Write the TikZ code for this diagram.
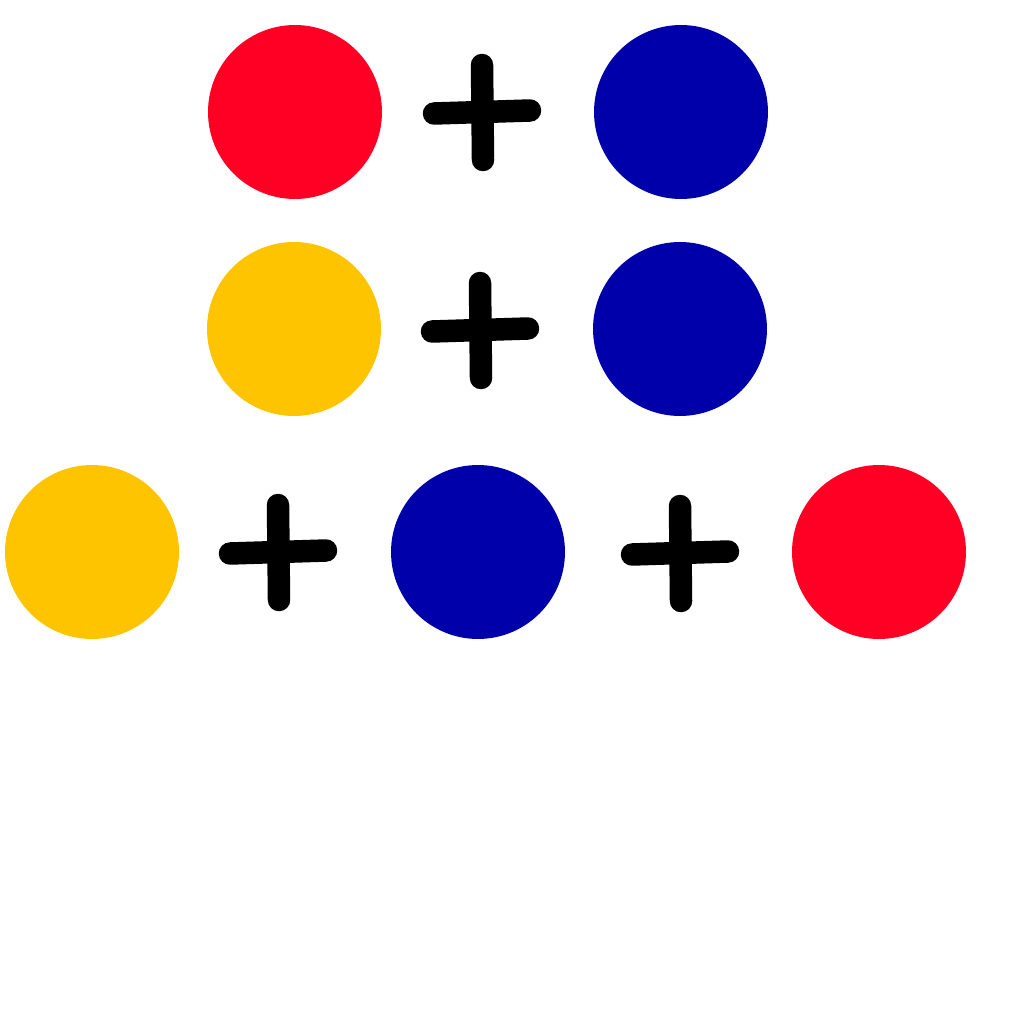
\documentclass[tikz,border=0pt]{standalone}
\usepackage{tikz}
\usetikzlibrary{calc}
\definecolor{dotRed}{RGB}{255,0,36}
\definecolor{dotBlue}{RGB}{0,0,170}
\definecolor{dotYellow}{RGB}{254,196,0}
\tikzset{
  dot/.style={circle, minimum size=3.48cm, inner sep=0pt, draw=none},
  plusline/.style={line width=0.45cm, line cap=round, black}
}
% plus sign drawn round a named coordinate
\newcommand{\plusmark}[1]{%
  \draw[plusline] ($(#1)+(-48,1.5)$) -- ($(#1)+(48,-1.5)$);
  \draw[plusline] ($(#1)+(0,-47)$) -- ($(#1)+(1,48)$);
}
\begin{document}
\begin{tikzpicture}[x=0.02cm,y=-0.02cm]
    \useasboundingbox (0,0) rectangle (1024,1024);

    % first row
    \node[dot, fill=dotRed] (r1a) at (295,112) {};
    \coordinate (p1) at (482,112);
    \node[dot, fill=dotBlue] (r1b) at (681,112) {};
    \plusmark{p1}

    % second row
    \node[dot, fill=dotYellow] (r2a) at (294,329) {};
    \coordinate (p2) at (480,330);
    \node[dot, fill=dotBlue] (r2b) at (680,329) {};
    \plusmark{p2}

    % third row
    \node[dot, fill=dotYellow] (r3a) at (92,552) {};
    \coordinate (p3) at (278,552);
    \node[dot, fill=dotBlue] (r3b) at (478,552) {};
    \coordinate (p4) at (680,553);
    \node[dot, fill=dotRed] (r3c) at (879,552) {};
    \plusmark{p3}
    \plusmark{p4}
\end{tikzpicture}
\end{document}
